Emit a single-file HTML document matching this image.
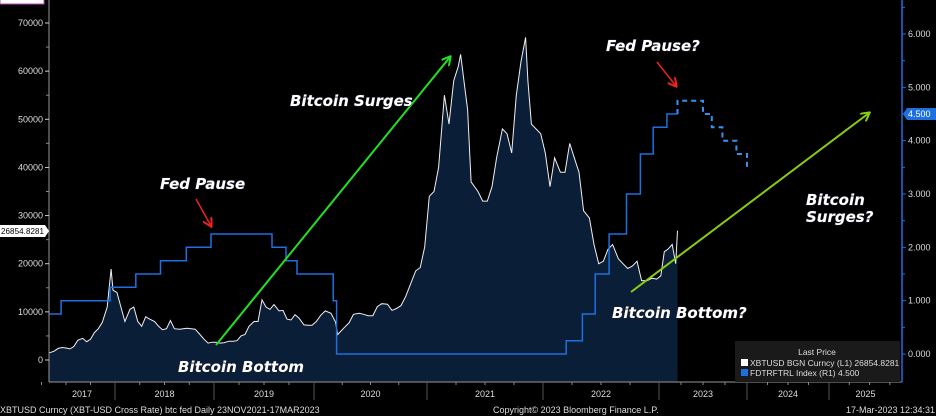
<!DOCTYPE html>
<html><head><meta charset="utf-8"><style>
body{margin:0;background:#000;width:936px;height:416px;overflow:hidden;font-family:"Liberation Sans",sans-serif}
svg{display:block}
.ann{font-family:"DejaVu Sans","Liberation Sans",sans-serif;font-weight:bold;font-style:italic;fill:#fff;font-size:15px;paint-order:stroke;stroke:#223;stroke-width:1px}
.tk{fill:#ddd;font-size:9px}
.ft{fill:#ddd;font-size:9px}
</style></head><body>
<svg id="chart" width="936" height="416" viewBox="0 0 936 416" xmlns="http://www.w3.org/2000/svg">
<g id="g"></g>
</svg>
<script>
const btcDates=[2017.33,2017.375,2017.42,2017.46,2017.5,2017.54,2017.58,2017.62,2017.67,2017.71,2017.75,2017.79,2017.83,2017.87,2017.92,2017.96,2017.98,
2018.02,2018.06,2018.1,2018.15,2018.19,2018.23,2018.27,2018.31,2018.35,2018.4,2018.44,2018.48,2018.52,2018.56,2018.6,2018.65,2018.69,2018.73,2018.77,2018.81,2018.85,2018.9,2018.94,2018.98,
2019.02,2019.06,2019.1,2019.15,2019.19,2019.23,2019.27,2019.31,2019.35,2019.4,2019.44,2019.48,2019.52,2019.56,2019.6,2019.65,2019.69,2019.73,2019.77,2019.81,2019.85,2019.9,2019.94,2019.98,
2020.02,2020.06,2020.1,2020.15,2020.19,2020.21,2020.27,2020.31,2020.35,2020.4,2020.44,2020.48,2020.52,2020.56,2020.6,2020.65,2020.69,2020.73,2020.77,2020.81,2020.85,2020.9,2020.94,2020.98,
2021.02,2021.06,2021.1,2021.15,2021.19,2021.23,2021.27,2021.29,2021.35,2021.38,2021.44,2021.48,2021.52,2021.56,2021.6,2021.65,2021.69,2021.73,2021.77,2021.81,2021.85,2021.87,2021.9,2021.94,2021.98,
2022.02,2022.06,2022.1,2022.15,2022.19,2022.23,2022.27,2022.31,2022.35,2022.4,2022.44,2022.48,2022.52,2022.56,2022.6,2022.65,2022.69,2022.73,2022.77,2022.81,2022.85,2022.9,2022.94,2022.98,
2023.02,2023.06,2023.1,2023.15,2023.19,2023.21];
const btcValues=[1500,1800,2400,2600,2500,2300,2800,4100,4500,3800,4300,5700,6500,7800,11000,18900,14500,
14000,11000,8000,10500,11000,8000,7000,9000,8500,8000,7000,6300,6500,8200,6500,6400,6500,6600,6500,6400,5500,4300,3500,3700,
3700,3500,3600,3900,3900,4000,5000,5300,7000,8000,8000,12500,11000,10500,11500,10200,10300,8500,8300,9400,8700,7300,7200,7200,
8000,9300,10200,9700,7900,5300,6800,7700,9500,9700,9500,9200,9200,11100,11700,11600,10300,10700,11300,13100,15500,18500,19200,23500,
34000,35000,40000,55000,49000,58000,61000,63500,52000,37000,35000,33000,33000,36000,42000,48000,47000,43000,55000,62000,67000,58000,49000,48000,47000,
43000,36000,42000,39000,39000,45000,42000,39000,31000,29500,24000,20000,20500,23000,24000,21000,20000,19000,19500,20500,16500,16500,17000,16800,
17500,22500,23000,24000,20000,26854];
const fedDates=[2017.33,2017.45,2017.95,2018.21,2018.46,2018.72,2018.97,2019.58,2019.72,2019.83,2020.17,2020.2,2022.2,2022.34,2022.45,2022.57,2022.72,2022.84,2022.95,2023.09,2023.21];
const fedValues=[0.75,1.0,1.25,1.5,1.75,2.0,2.25,2.0,1.75,1.5,1.0,0.0,0.25,0.75,1.5,2.25,3.0,3.75,4.25,4.5,4.5];
const fcDates=[2023.21,2023.5,2023.6,2023.72,2023.88,2024.0,2024.0];
const fcValues=[4.75,4.5,4.25,4.0,3.75,3.5,3.5];
const leftTicks=[0,10000,20000,30000,40000,50000,60000,70000];
const rightTicks=[0,1,2,3,4,5,6];
const yearLabels=["2017","2018","2019","2020","2021","2022","2023","2024","2025"];
const xa=[[2017,17],[2018,115],[2019,214],[2020,314],[2021,427],[2022,543],[2023,659],[2024,747],[2025,829],[2025.9,902]];
function X(t){for(let i=0;i<xa.length-1;i++){if(t<=xa[i+1][0]){const a=xa[i],b=xa[i+1];return a[1]+(t-a[0])/(b[0]-a[0])*(b[1]-a[1]);}}return 902;}
function YL(v){return 360-v*337/70000;}
function YR(v){return 354-v*320/6;}
const NS="http://www.w3.org/2000/svg",g=document.getElementById('g');
function el(tag,attrs,txt){const e=document.createElementNS(NS,tag);for(const k in attrs)e.setAttribute(k,attrs[k]);if(txt!==undefined)e.textContent=txt;g.appendChild(e);return e;}
let d="M"+X(btcDates[0])+",382";btcDates.forEach((t,i)=>{d+=" L"+X(t).toFixed(1)+","+YL(btcValues[i]).toFixed(1);});
d+=" L"+X(btcDates[btcDates.length-1]).toFixed(1)+",382 Z";
let a=el('path',{d:d,fill:'#0b1e38'});


let ld="";btcDates.forEach((t,i)=>{ld+=(i?" L":"M")+X(t).toFixed(1)+","+YL(btcValues[i]).toFixed(1);});
let l=el('path',{d:ld,fill:'none',stroke:'#f0f0f0','stroke-width':1});


let fd="";fedDates.forEach((t,i)=>{const x=X(t).toFixed(1),y=YR(fedValues[i]).toFixed(1);if(i===0)fd="M"+x+","+y;else fd+=" H"+x+" V"+y;});
fd+=" H"+X(2023.21).toFixed(1);
let f=el('path',{d:fd,fill:'none',stroke:'#1e6fe0','stroke-width':1.5});


let cd="";fcDates.forEach((t,i)=>{const x=X(t).toFixed(1),y=YR(fcValues[i]).toFixed(1);if(i===0)cd="M"+x+","+YR(fedValues[fedValues.length-1]).toFixed(1)+" V"+y;else cd+=" H"+x+" V"+y;});
let c=el('path',{d:cd,fill:'none',stroke:'#3b8ff0','stroke-width':2,'stroke-dasharray':'5,4'});


el('line',{x1:49,y1:0,x2:49,y2:382,stroke:'#999'});
el('line',{x1:49,y1:382,x2:902,y2:382,stroke:'#999'});
el('line',{x1:902,y1:0,x2:902,y2:382,stroke:'#1e6fe0','stroke-width':1.5});
leftTicks.forEach(v=>{const y=YL(v);el('line',{x1:45,y1:y,x2:49,y2:y,stroke:'#ccc'});el('line',{x1:46,y1:YL(v+5000),x2:49,y2:YL(v+5000),stroke:'#888'});
const t=el('text',{x:43,y:y+3,'text-anchor':'end',class:'tk'},String(v));

});
rightTicks.forEach(v=>{const y=YR(v);el('line',{x1:902,y1:y,x2:906,y2:y,stroke:'#1e6fe0'});el('line',{x1:902,y1:YR(v+0.5),x2:905,y2:YR(v+0.5),stroke:'#1e6fe0'});
const t=el('text',{x:908,y:y+3,class:'tk'},v.toFixed(3));

});
yearLabels.forEach((s,i)=>{const y0=+s,xb=X(y0+1),xs=Math.max(49,X(y0));
if(y0<2025)el('line',{x1:xb,y1:382,x2:xb,y2:400,stroke:'#555'});
for(let q=1;q<4;q++)el('line',{x1:X(y0+q/4),y1:382,x2:X(y0+q/4),y2:385,stroke:'#888'});
const t=el('text',{x:(xs+Math.min(902,xb))/2,y:397,'text-anchor':'middle',class:'tk'},s);

});
</script>
<svg style="position:absolute;left:0;top:0" width="936" height="416">
<defs>
<marker id="ag" markerWidth="10" markerHeight="10" refX="8" refY="5" orient="auto" markerUnits="userSpaceOnUse"><path d="M0,0 L9,5 L0,10" fill="none" stroke="#22e022" stroke-width="2"/></marker>
<marker id="ay" markerWidth="10" markerHeight="10" refX="8" refY="5" orient="auto" markerUnits="userSpaceOnUse"><path d="M0,0 L9,5 L0,10" fill="none" stroke="#88cc11" stroke-width="2"/></marker>
<marker id="ar" markerWidth="10" markerHeight="10" refX="8" refY="5" orient="auto" markerUnits="userSpaceOnUse"><path d="M0,0 L9,5 L0,10" fill="none" stroke="#ee2222" stroke-width="2"/></marker>
</defs>
<line x1="216" y1="345" x2="450" y2="57" stroke="#22e022" stroke-width="2" marker-end="url(#ag)"/>
<line x1="631" y1="292" x2="869" y2="113" stroke="#88cc11" stroke-width="2" marker-end="url(#ay)"/>
<line x1="196" y1="199" x2="211" y2="226" stroke="#ee2222" stroke-width="1.5" marker-end="url(#ar)"/>
<line x1="657" y1="62" x2="676" y2="86" stroke="#ee2222" stroke-width="1.5" marker-end="url(#ar)"/>
<text class="ann" x="160" y="189">Fed Pause</text>
<text class="ann" x="290" y="106">Bitcoin Surges</text>
<text class="ann" x="606" y="51">Fed Pause?</text>
<text class="ann" x="806" y="205">Bitcoin</text>
<text class="ann" x="806" y="222">Surges?</text>
<text class="ann" x="178" y="372">Bitcoin Bottom</text>
<text class="ann" x="612" y="318">Bitcoin Bottom?</text>
<rect x="0" y="-4" width="44" height="8" fill="#fff" stroke="#c040c0"/>
<g><path d="M0,225 H45 L49,231 L45,237 H0Z" fill="#fff"/><text x="1" y="234" font-size="8" fill="#000" textLength="43">26854.8281</text></g>
<g><path d="M903,114 L907,108 H936 V120 H907Z" fill="#1e6fe0"/><text x="908" y="117" font-size="9" fill="#fff">4.500</text></g>
<g>
<rect x="735" y="341" width="165" height="41" fill="#1a1a1a"/>
<text x="817" y="355" text-anchor="middle" font-size="8.5" fill="#ddd">Last Price</text>
<rect x="741" y="359" width="7" height="7" fill="#fff"/><text x="750" y="366" font-size="8.5" fill="#ddd">XBTUSD BGN Curncy  (L1) 26854.8281</text>
<rect x="741" y="369" width="7" height="7" fill="#1e6fe0"/><text x="750" y="376" font-size="8.5" fill="#ddd">FDTRFTRL Index  (R1)      4.500</text>
</g>
<text class="ft" x="0" y="413">XBTUSD Curncy (XBT-USD Cross Rate) btc fed  Daily 23NOV2021-17MAR2023</text>
<text class="ft" x="493" y="413">Copyright© 2023 Bloomberg Finance L.P.</text>
<text class="ft" x="935" y="413" text-anchor="end">17-Mar-2023 12:34:31</text>
</svg>
</body></html>
